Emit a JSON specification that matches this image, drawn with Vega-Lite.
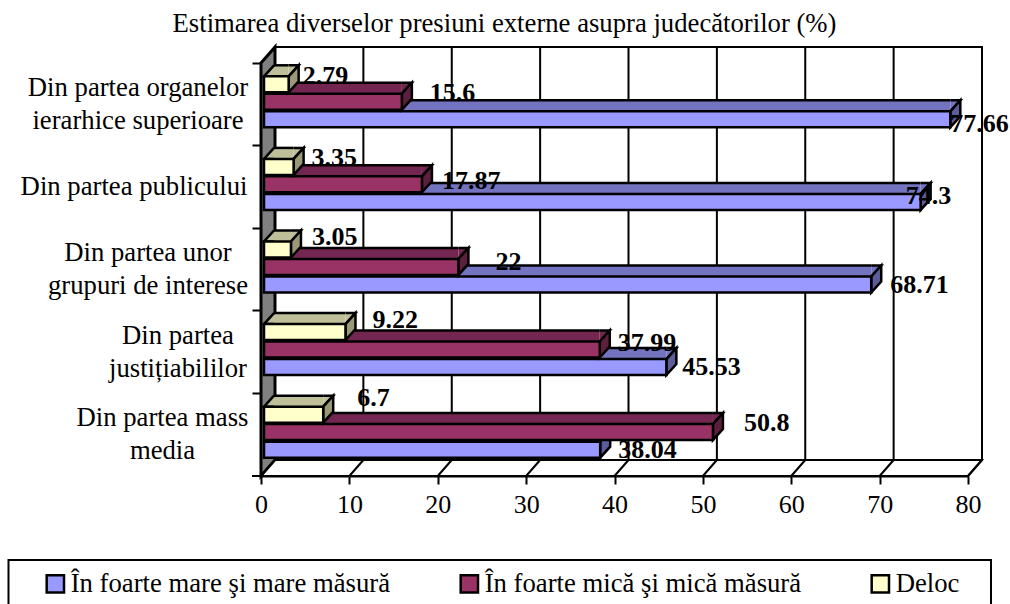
{
"$schema":"https://vega.github.io/schema/vega-lite/v6.json",
"autosize":{"type":"none"},
"padding":{"left":261,"top":63,"right":42,"bottom":128},
"width":707,"height":413,
"background":"white",
"config":{"view":{"stroke":null},"font":"Liberation Serif"},
"title":{"text":"Estimarea diverselor presiuni externe asupra judecătorilor (%)","font":"Liberation Serif","fontSize":26.7,"fontWeight":"normal","color":"#000","anchor":"middle","dx":-110,"offset":3},
"data":{"values":[
{"cat":"Din partea organelor\nierarhice superioare","series":"În foarte mare şi mare măsură","value":77.66},
{"cat":"Din partea organelor\nierarhice superioare","series":"În foarte mică şi mică măsură","value":15.6},
{"cat":"Din partea organelor\nierarhice superioare","series":"Deloc","value":2.79},
{"cat":"Din partea publicului","series":"În foarte mare şi mare măsură","value":74.3},
{"cat":"Din partea publicului","series":"În foarte mică şi mică măsură","value":17.87},
{"cat":"Din partea publicului","series":"Deloc","value":3.35},
{"cat":"Din partea unor\ngrupuri de interese","series":"În foarte mare şi mare măsură","value":68.71},
{"cat":"Din partea unor\ngrupuri de interese","series":"În foarte mică şi mică măsură","value":22},
{"cat":"Din partea unor\ngrupuri de interese","series":"Deloc","value":3.05},
{"cat":"Din partea\njustițiabililor","series":"În foarte mare şi mare măsură","value":45.53},
{"cat":"Din partea\njustițiabililor","series":"În foarte mică şi mică măsură","value":37.99},
{"cat":"Din partea\njustițiabililor","series":"Deloc","value":9.22},
{"cat":"Din partea mass\nmedia","series":"În foarte mare şi mare măsură","value":38.04},
{"cat":"Din partea mass\nmedia","series":"În foarte mică şi mică măsură","value":50.8},
{"cat":"Din partea mass\nmedia","series":"Deloc","value":6.7}
]},
"encoding":{
"y":{"field":"cat","type":"nominal","title":null,
"scale":{"domain":["Din partea organelor\nierarhice superioare","Din partea publicului","Din partea unor\ngrupuri de interese","Din partea\njustițiabililor","Din partea mass\nmedia"],"paddingInner":0,"paddingOuter":0},
"axis":{"labels":false,"bandPosition":0,"tickSize":9,"tickWidth":2,"tickColor":"#000","domainColor":"#000","domainWidth":2,"grid":false}},
"x":{"field":"value","type":"quantitative","title":null,
"scale":{"domain":[0,80],"nice":false},
"axis":{"values":[0,10,20,30,40,50,60,70,80],"grid":false,"tickSize":8,"tickWidth":2,"tickColor":"#000","domainColor":"#000","domainWidth":2,"labelFont":"Liberation Serif","labelFontSize":26,"labelColor":"#000","labelPadding":7,"labelFlush":false,"labelOverlap":false}}
},
"layer":[
{"data":{"values":[{"tick":0}]},"mark":{"type":"point","filled":true,"opacity":1,"size":4,"fill":"#fff","stroke":"#000","strokeWidth":2,"shape":"M-252.5,125.3H730V190H-252.5Z"},
 "encoding":{"x":{"field":"tick","type":"quantitative"},"y":{"datum":"Din partea mass\nmedia"}}},
{"data":{"values":[{"tick":0}]},"mark":{"type":"point","filled":true,"opacity":1,"size":4,"fill":"#fff","stroke":"#000","strokeWidth":2,"shape":"M14,-387.7H721V25.3H14Z"},
 "encoding":{"x":{"field":"tick","type":"quantitative"},"y":{"datum":"Din partea mass\nmedia"}}},
{"data":{"values":[{"tick":0}]},"mark":{"type":"point","filled":true,"opacity":1,"size":4,"fill":"#808080","stroke":"#000","strokeWidth":3,"shape":"M0,-371.7L14,-387.7L14,25.3L0,41.3Z"},
 "encoding":{"x":{"field":"tick","type":"quantitative"},"y":{"datum":"Din partea mass\nmedia"}}},
{"data":{"values":[{"tick":0}]},"mark":{"type":"point","filled":true,"opacity":1,"size":4,"fill":"#fff","stroke":"#000","strokeWidth":2,"shape":"M0,41.3L14,25.3H721L707,41.3ZM-9,41.3H0"},
 "encoding":{"x":{"field":"tick","type":"quantitative"},"y":{"datum":"Din partea mass\nmedia"}}},
{"data":{"values":[{"tick":0},{"tick":10},{"tick":20},{"tick":30},{"tick":40},{"tick":50},{"tick":60},{"tick":70},{"tick":80}]},
 "mark":{"type":"point","filled":false,"opacity":1,"size":4,"stroke":"#000","strokeWidth":2,"shape":"M0,41.3L14,25.3V-387.7"},
 "encoding":{"x":{"field":"tick","type":"quantitative"},"y":{"datum":"Din partea mass\nmedia"}}},

{"transform":[{"filter":"datum.series=='În foarte mare şi mare măsură'"}],"layer":[
 {"mark":{"type":"bar","size":11,"fill":"#7373bf","xOffset":13,"x2Offset":3,"yOffset":1.5},"encoding":{"x":{"datum":0},"x2":{"field":"value"}}},
 {"mark":{"type":"rule","stroke":"#000","strokeWidth":2.5,"xOffset":13,"x2Offset":3,"yOffset":-4},"encoding":{"x":{"datum":0},"x2":{"field":"value"}}},
 {"mark":{"type":"point","filled":true,"opacity":1,"size":4,"fill":"#7373bf","stroke":"#000","strokeWidth":2.5,"shape":"M3,-4L13,-4L3,7"}},
 {"mark":{"type":"point","filled":true,"opacity":1,"size":4,"fill":"#5c5c99","stroke":"#000","strokeWidth":2.5,"shape":"M3,7L13,-4L13,12L3,23Z"}},
 {"mark":{"type":"bar","size":16,"stroke":"#000","strokeWidth":2.5,"opacity":1,"xOffset":3,"x2Offset":3,"yOffset":15},"encoding":{"x":{"datum":0},"x2":{"field":"value"},
  "color":{"field":"series","type":"nominal","title":null,
   "scale":{"domain":["În foarte mare şi mare măsură","În foarte mică şi mică măsură","Deloc"],"range":["#9999ff","#993366","#ffffcc"]},
   "legend":{"orient":"none","legendX":-219,"legendY":507,"direction":"horizontal","columns":3,"columnPadding":64,"padding":0,"symbolType":"square","symbolSize":300,"symbolStrokeColor":"#000","symbolStrokeWidth":2.5,"symbolOpacity":1,"labelFont":"Liberation Serif","labelFontSize":26.7,"labelColor":"#000","labelOffset":2,"labelLimit":500}}}}
]},
{"transform":[{"filter":"datum.series=='În foarte mică şi mică măsură'"}],"layer":[
 {"mark":{"type":"bar","size":11,"fill":"#732650","xOffset":13,"x2Offset":3,"yOffset":-16.1},"encoding":{"x":{"datum":0},"x2":{"field":"value"}}},
 {"mark":{"type":"rule","stroke":"#000","strokeWidth":2.5,"xOffset":13,"x2Offset":3,"yOffset":-21.6},"encoding":{"x":{"datum":0},"x2":{"field":"value"}}},
 {"mark":{"type":"point","filled":true,"opacity":1,"size":4,"fill":"#732650","stroke":"#000","strokeWidth":2.5,"shape":"M3,-21.6L13,-21.6L3,-10.6"}},
 {"mark":{"type":"point","filled":true,"opacity":1,"size":4,"fill":"#5c1f3d","stroke":"#000","strokeWidth":2.5,"shape":"M3,-10.6L13,-21.6L13,-5.6L3,5.4Z"}},
 {"mark":{"type":"bar","size":16,"stroke":"#000","strokeWidth":2.5,"opacity":1,"xOffset":3,"x2Offset":3,"yOffset":-2.6},"encoding":{"x":{"datum":0},"x2":{"field":"value"},"color":{"field":"series","type":"nominal"}}}
]},
{"transform":[{"filter":"datum.series=='Deloc'"}],"layer":[
 {"mark":{"type":"bar","size":11,"fill":"#bfbf99","xOffset":13,"x2Offset":3,"yOffset":-33.5},"encoding":{"x":{"datum":0},"x2":{"field":"value"}}},
 {"mark":{"type":"rule","stroke":"#000","strokeWidth":2.5,"xOffset":13,"x2Offset":3,"yOffset":-39},"encoding":{"x":{"datum":0},"x2":{"field":"value"}}},
 {"mark":{"type":"point","filled":true,"opacity":1,"size":4,"fill":"#bfbf99","stroke":"#000","strokeWidth":2.5,"shape":"M13,-28L3,-28L13,-39"},"encoding":{"x":{"datum":0}}},
 {"mark":{"type":"point","filled":true,"opacity":1,"size":4,"fill":"#bfbf99","stroke":"#000","strokeWidth":2.5,"shape":"M3,-39L13,-39L3,-28"}},
 {"mark":{"type":"point","filled":true,"opacity":1,"size":4,"fill":"#999977","stroke":"#000","strokeWidth":2.5,"shape":"M3,-28L13,-39L13,-23L3,-12Z"}},
 {"mark":{"type":"bar","size":16,"stroke":"#000","strokeWidth":2.5,"opacity":1,"xOffset":3,"x2Offset":3,"yOffset":-20},"encoding":{"x":{"datum":0},"x2":{"field":"value"},"color":{"field":"series","type":"nominal"}}}
]},

{"transform":[{"filter":"datum.series=='Deloc' && indexof(datum.cat,'organelor')>=0"}],"mark":{"type":"text","font":"Liberation Serif","fontSize":26.7,"lineBreak":"\n","lineHeight":33,"align":"center","baseline":"middle","dx":-123,"dy":-16.5},"encoding":{"x":{"datum":0},"text":{"field":"cat"}}},
{"transform":[{"filter":"datum.series=='Deloc' && indexof(datum.cat,'publicului')>=0"}],"mark":{"type":"text","font":"Liberation Serif","fontSize":26.7,"lineBreak":"\n","lineHeight":33,"align":"center","baseline":"middle","dx":-127},"encoding":{"x":{"datum":0},"text":{"field":"cat"}}},
{"transform":[{"filter":"datum.series=='Deloc' && indexof(datum.cat,'interese')>=0"}],"mark":{"type":"text","font":"Liberation Serif","fontSize":26.7,"lineBreak":"\n","lineHeight":33,"align":"center","baseline":"middle","dx":-113,"dy":-16.5},"encoding":{"x":{"datum":0},"text":{"field":"cat"}}},
{"transform":[{"filter":"datum.series=='Deloc' && indexof(datum.cat,'justi')>=0"}],"mark":{"type":"text","font":"Liberation Serif","fontSize":26.7,"lineBreak":"\n","lineHeight":33,"align":"center","baseline":"middle","dx":-83,"dy":-16.5},"encoding":{"x":{"datum":0},"text":{"field":"cat"}}},
{"transform":[{"filter":"datum.series=='Deloc' && indexof(datum.cat,'mass')>=0"}],"mark":{"type":"text","font":"Liberation Serif","fontSize":26.7,"lineBreak":"\n","lineHeight":33,"align":"center","baseline":"middle","dx":-98.5,"dy":-16.5},"encoding":{"x":{"datum":0},"text":{"field":"cat"}}},

{"transform":[{"filter":"datum.value==2.79"}],"mark":{"type":"text","font":"Liberation Serif","fontSize":26,"fontWeight":"bold","align":"left","baseline":"middle","dx":17,"dy":-28},"encoding":{"text":{"field":"value"}}},
{"transform":[{"filter":"datum.value==15.6"}],"mark":{"type":"text","font":"Liberation Serif","fontSize":26,"fontWeight":"bold","align":"left","baseline":"middle","dx":31,"dy":-11},"encoding":{"text":{"field":"value"}}},
{"transform":[{"filter":"datum.value==77.66"}],"mark":{"type":"text","font":"Liberation Serif","fontSize":26,"fontWeight":"bold","align":"left","baseline":"middle","dx":3,"dy":20},"encoding":{"text":{"field":"value"}}},
{"transform":[{"filter":"datum.value==3.35"}],"mark":{"type":"text","font":"Liberation Serif","fontSize":26,"fontWeight":"bold","align":"left","baseline":"middle","dx":21,"dy":-29},"encoding":{"text":{"field":"value"}}},
{"transform":[{"filter":"datum.value==17.87"}],"mark":{"type":"text","font":"Liberation Serif","fontSize":26,"fontWeight":"bold","align":"left","baseline":"middle","dx":23,"dy":-6},"encoding":{"text":{"field":"value"}}},
{"transform":[{"filter":"datum.value==74.3"}],"mark":{"type":"text","font":"Liberation Serif","fontSize":26,"fontWeight":"bold","align":"left","baseline":"middle","dx":-12,"dy":9},"encoding":{"text":{"field":"value"}}},
{"transform":[{"filter":"datum.value==3.05"}],"mark":{"type":"text","font":"Liberation Serif","fontSize":26,"fontWeight":"bold","align":"left","baseline":"middle","dx":24,"dy":-33},"encoding":{"text":{"field":"value"}}},
{"transform":[{"filter":"datum.value==22"}],"mark":{"type":"text","font":"Liberation Serif","fontSize":26,"fontWeight":"bold","align":"left","baseline":"middle","dx":40,"dy":-8},"encoding":{"text":{"field":"value"}}},
{"transform":[{"filter":"datum.value==68.71"}],"mark":{"type":"text","font":"Liberation Serif","fontSize":26,"fontWeight":"bold","align":"left","baseline":"middle","dx":22,"dy":15},"encoding":{"text":{"field":"value"}}},
{"transform":[{"filter":"datum.value==9.22"}],"mark":{"type":"text","font":"Liberation Serif","fontSize":26,"fontWeight":"bold","align":"left","baseline":"middle","dx":30,"dy":-32},"encoding":{"text":{"field":"value"}}},
{"transform":[{"filter":"datum.value==37.99"}],"mark":{"type":"text","font":"Liberation Serif","fontSize":26,"fontWeight":"bold","align":"left","baseline":"middle","dx":21,"dy":-9},"encoding":{"text":{"field":"value"}}},
{"transform":[{"filter":"datum.value==45.53"}],"mark":{"type":"text","font":"Liberation Serif","fontSize":26,"fontWeight":"bold","align":"left","baseline":"middle","dx":19,"dy":15},"encoding":{"text":{"field":"value"}}},
{"transform":[{"filter":"datum.value==6.7"}],"mark":{"type":"text","font":"Liberation Serif","fontSize":26,"fontWeight":"bold","align":"left","baseline":"middle","dx":37,"dy":-37},"encoding":{"text":{"field":"value"}}},
{"transform":[{"filter":"datum.value==50.8"}],"mark":{"type":"text","font":"Liberation Serif","fontSize":26,"fontWeight":"bold","align":"left","baseline":"middle","dx":34,"dy":-12},"encoding":{"text":{"field":"value"}}},
{"transform":[{"filter":"datum.value==38.04"}],"mark":{"type":"text","font":"Liberation Serif","fontSize":26,"fontWeight":"bold","align":"left","baseline":"middle","dx":21,"dy":15},"encoding":{"text":{"field":"value"}}}
]
}
